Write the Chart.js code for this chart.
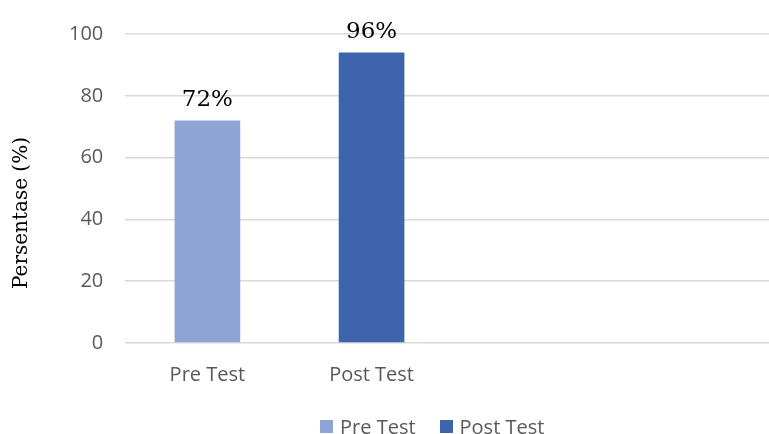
<!DOCTYPE html>
<html>
<head>
<meta charset="utf-8">
<script src="https://cdn.jsdelivr.net/npm/chart.js@4.4.1/dist/chart.umd.min.js"></script>
<style>
    html, body { margin: 0; padding: 0; background: #fff; overflow: hidden; }
    #wrap { position: relative; width: 782px; height: 434px; }
    #legend {
        position: absolute; top: 413px; left: 320px;
        display: flex; align-items: center;
        font-family: 'Open Sans', sans-serif; font-size: 20px; color: #595959;
    }
    #legend .item { display: flex; align-items: center; margin-right: 24px; }
    #legend .box { width: 13px; height: 13px; margin-right: 7px; }
</style>
</head>
<body>
<div id="wrap">
    <canvas id="chart" width="782" height="434"></canvas>
    <div id="legend"></div>
</div>
<script>
// Data
const categories = ['Pre Test', 'Post Test', '', ''];
const seriesNames = ['Pre Test', 'Post Test'];
const preTest = [72, null, null, null];
const postTest = [null, 94, null, null];
const barLabels = ['72%', '96%'];
const yTicks = [0, 20, 40, 60, 80, 100];
const yTitle = 'Persentase (%)';
const colors = ['#8EA4D4', '#3D64AC'];

// label di atas batang + judul sumbu Y
const labelPlugin = {
    id: 'barLabels',
    afterDatasetsDraw(chart) {
        const ctx = chart.ctx;
        ctx.save();
        ctx.font = '23px "DejaVu Serif"';
        ctx.fillStyle = '#000';
        ctx.textAlign = 'center';
        ctx.textBaseline = 'alphabetic';
        chart.data.datasets.forEach(function(ds, i) {
            const meta = chart.getDatasetMeta(i);
            ds.data.forEach(function(v, j) {
                if (v === null) return;
                const bar = meta.data[j];
                ctx.fillText(barLabels[i], bar.x, bar.y - 15);
            });
        });
        ctx.restore();

        ctx.save();
        ctx.translate(22, 213);
        ctx.rotate(-Math.PI / 2);
        ctx.font = '20px "DejaVu Serif"';
        ctx.fillStyle = '#000';
        ctx.textAlign = 'center';
        ctx.textBaseline = 'middle';
        ctx.fillText(yTitle, 0, 0);
        ctx.restore();
    }
};

const chart = new Chart(document.getElementById('chart').getContext('2d'), {
    type: 'bar',
    data: {
        labels: categories,
        datasets: [
            { label: seriesNames[0], data: preTest, backgroundColor: colors[0] },
            { label: seriesNames[1], data: postTest, backgroundColor: colors[1] }
        ]
    },
    options: {
        responsive: false,
        animation: false,
        grouped: false,
        categoryPercentage: 1,
        barPercentage: 0.4,
        layout: { padding: { top: 30, left: 47, right: 0, bottom: 35 } },
        plugins: {
            legend: { display: false },
            tooltip: { enabled: false }
        },
        scales: {
            x: {
                grid: { display: false },
                border: { display: false },
                ticks: {
                    color: '#595959',
                    padding: 12,
                    font: { family: 'Open Sans', size: 20 }
                }
            },
            y: {
                min: 0,
                max: 100,
                afterBuildTicks: function(scale) {
                    scale.ticks = yTicks.map(function(v) { return { value: v }; });
                },
                grid: { color: '#D9D9D9', lineWidth: 1.5, drawTicks: false },
                border: { display: false },
                ticks: {
                    color: '#595959',
                    padding: 22,
                    font: { family: 'Open Sans', size: 20 }
                }
            }
        }
    },
    plugins: [labelPlugin]
});

// legenda HTML
const legend = document.getElementById('legend');
seriesNames.forEach(function(name, i) {
    const item = document.createElement('div');
    item.className = 'item';
    const box = document.createElement('span');
    box.className = 'box';
    box.style.background = colors[i];
    const txt = document.createElement('span');
    txt.textContent = name;
    item.appendChild(box);
    item.appendChild(txt);
    legend.appendChild(item);
});
</script>
</body>
</html>
